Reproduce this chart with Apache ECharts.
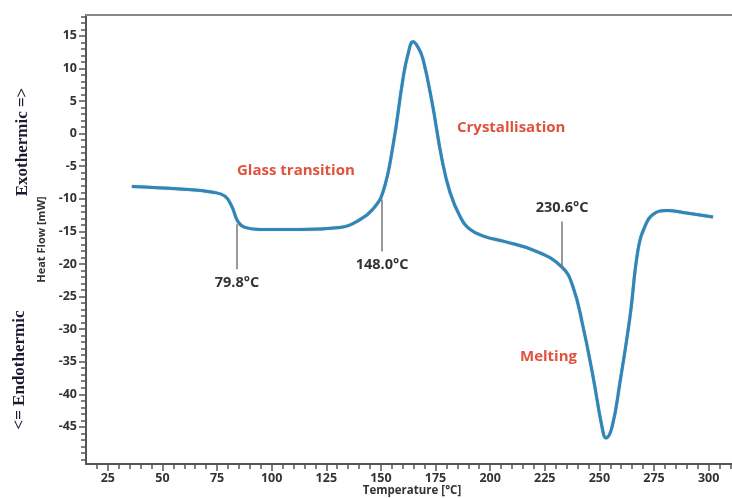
<!DOCTYPE html>
<html><head><meta charset="utf-8">
<script src="https://cdn.jsdelivr.net/npm/echarts@6/dist/echarts.min.js"></script>
<style>html,body{margin:0;padding:0;background:#fff}#c{width:732px;height:498px}</style>
</head><body><div id="c"></div>
<script>
const temps = [36.0, 58.0, 73.1, 78.6, 81.8, 84.5, 87.7, 94.6, 112.9, 131.2, 140.4, 146.3, 150.9, 155.5, 160.1, 162.4, 164.7, 166.9, 169.2, 173.4, 177.9, 181.6, 186.2, 190.8, 197.6, 205.9, 221.4, 232.9, 237.9, 242.5, 247.1, 251.2, 253.0, 255.8, 259.4, 264.0, 267.7, 270.9, 274.5, 281.0, 288.3, 302.0];
const heatFlow = [-8.1, -8.5, -9.0, -9.6, -11.2, -13.5, -14.4, -14.7, -14.7, -14.4, -13.2, -11.6, -9.0, -1.9, 8.4, 12.2, 14.1, 13.3, 11.5, 4.8, -3.9, -9.0, -12.7, -14.7, -15.8, -16.5, -18.1, -20.5, -23.5, -29.6, -37.3, -45.0, -46.7, -45.0, -38.2, -28.1, -17.8, -14.2, -12.4, -11.8, -12.1, -12.8];
const xMajorTicks = [25, 50, 75, 100, 125, 150, 175, 200, 225, 250, 275, 300];
const yMajorTicks = [15, 10, 5, 0, -5, -10, -15, -20, -25, -30, -35, -40, -45];
const onsetLabels = ['79.8°C', '148.0°C', '230.6°C'];
const onsetX = [84.1, 150.5, 232.9];
const onsetYFrom = [-13.9, -10.1, -20.5];
const onsetYTo = [-20.8, -18.1, -13.5];
const regionLabels = ['Glass transition', 'Crystallisation', 'Melting'];
const xTitle = 'Temperature [°C]';

const xMin = 15, xMax = 310.7, yMin = -50.7, yMax = 18.2;
const xMinor = []; for (let v = 20; v <= 310; v += 5) xMinor.push(v);
const yMinor = []; for (let v = -50; v <= 18; v += 1) yMinor.push(v);

const lblFont = {fontFamily: 'Open Sans', fontWeight: 'bold', fontSize: 12.5, color: '#333'};
const axisLineStyle = {color: '#555', width: 2};

const chart = echarts.init(document.getElementById('c'));
chart.setOption({
  animation: false,
  grid: {left: 86, top: 15, right: 0, bottom: 34, containLabel: false, outerBoundsMode: 'none'},
  xAxis: [
    {type: 'value', min: xMin, max: xMax, position: 'bottom',
     axisLine: {show: true, onZero: false, lineStyle: axisLineStyle},
     axisTick: {show: true, inside: false, length: 7, customValues: xMajorTicks, lineStyle: {color: '#555', width: 1.5}},
     axisLabel: Object.assign({customValues: xMajorTicks, margin: 8}, lblFont),
     splitLine: {show: false}},
    {type: 'value', min: xMin, max: xMax, position: 'bottom',
     axisLine: {show: false, onZero: false},
     axisTick: {show: true, length: 5, customValues: xMinor, lineStyle: {color: '#555', width: 1.5}},
     axisLabel: {show: false}, splitLine: {show: false}},
    {type: 'value', min: xMin, max: xMax, position: 'top',
     axisLine: {show: true, onZero: false, lineStyle: {color: '#888', width: 2}},
     axisTick: {show: false}, axisLabel: {show: false}, splitLine: {show: false}}
  ],
  yAxis: [
    {type: 'value', min: yMin, max: yMax, position: 'left',
     name: 'Heat Flow [mW]', nameLocation: 'middle', nameGap: 37,
     nameTextStyle: {fontFamily: 'Open Sans', fontWeight: 'bold', fontSize: 11, color: '#333'},
     axisLine: {show: true, onZero: false, lineStyle: axisLineStyle},
     axisTick: {show: true, length: 7, customValues: yMajorTicks, lineStyle: {color: '#555', width: 1.5}},
     axisLabel: Object.assign({customValues: yMajorTicks, margin: 9}, lblFont),
     splitLine: {show: false}},
    {type: 'value', min: yMin, max: yMax, position: 'left',
     axisLine: {show: false, onZero: false},
     axisTick: {show: true, length: 5, customValues: yMinor, lineStyle: {color: '#555', width: 1.5}},
     axisLabel: {show: false}, splitLine: {show: false}}
  ],
  series: [
    {type: 'line', xAxisIndex: 0, yAxisIndex: 0, smooth: 0.45, symbol: 'none',
     data: temps.map((t, i) => [t, heatFlow[i]]),
     lineStyle: {color: '#2f86b8', width: 3, shadowColor: 'rgba(20,70,110,0.5)', shadowBlur: 1},
     markLine: {
       symbol: 'none', silent: true,
       lineStyle: {color: '#777', width: 1.5, type: 'solid'},
       label: {show: true, position: 'end', distance: 6, fontFamily: 'Open Sans', fontWeight: 'bold', fontSize: 14.5, color: '#333',
               formatter: p => p.name},
       data: onsetLabels.map((l, i) => [
         {name: l, coord: [onsetX[i], onsetYFrom[i]]},
         {coord: [onsetX[i], onsetYTo[i]]}
       ])
     }}
  ],
  graphic: [
    {type: 'text', x: 412, y: 491,
     style: {text: xTitle, fill: '#333', font: 'bold 11.5px "Open Sans"', align: 'center', verticalAlign: 'middle'}},
    {type: 'text', left: 237, top: 163, style: {text: regionLabels[0], fill: '#e0523c', font: 'bold 15px "Open Sans"'}},
    {type: 'text', left: 457, top: 120, style: {text: regionLabels[1], fill: '#e0523c', font: 'bold 15px "Open Sans"'}},
    {type: 'text', left: 520, top: 349, style: {text: regionLabels[2], fill: '#e0523c', font: 'bold 15px "Open Sans"'}},
    {type: 'text', x: 23, y: 142, rotation: Math.PI / 2,
     style: {text: 'Exothermic =>', fill: '#1a1a30', font: 'bold 17px "Liberation Serif"', align: 'center', verticalAlign: 'middle'}},
    {type: 'text', x: 20, y: 370, rotation: Math.PI / 2,
     style: {text: '<= Endothermic', fill: '#1a1a30', font: 'bold 17px "Liberation Serif"', align: 'center', verticalAlign: 'middle'}}
  ]
});
</script></body></html>
